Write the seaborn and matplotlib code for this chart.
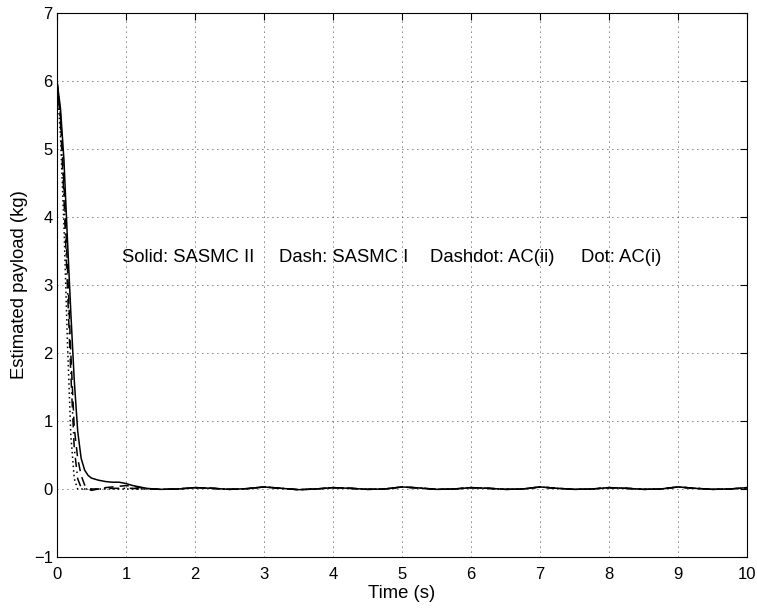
import numpy as np
import pandas as pd
import matplotlib
matplotlib.use("Agg")
import matplotlib.pyplot as plt
import seaborn as sns

# ---- data ----
t_early = [0.0, 0.05, 0.1, 0.15, 0.2, 0.25, 0.3, 0.35, 0.4, 0.45, 0.5,
           0.6, 0.7, 0.8, 0.9, 1.0, 1.1, 1.2, 1.3, 1.4]
solid_early = [6.0, 5.6, 4.85, 3.7, 2.6, 1.6, 0.85, 0.45, 0.28, 0.2, 0.16,
               0.13, 0.11, 0.1, 0.1, 0.08, 0.05, 0.03, 0.01, 0.0]
dash_early = [6.0, 5.5, 4.5, 3.3, 2.0, 0.9, 0.45, 0.2, 0.06, 0.0, -0.02,
              0.0, 0.02, 0.03, 0.04, 0.05, 0.04, 0.02, 0.01, 0.0]
dashdot_early = [6.0, 5.4, 4.3, 3.0, 1.7, 0.6, 0.15, 0.02, 0.0, 0.0, 0.0,
                 0.0, 0.01, 0.01, 0.01, 0.01, 0.01, 0.0, 0.0, 0.0]
dot_early = [6.0, 5.2, 3.9, 2.2, 0.8, 0.15, 0.0, 0.0, 0.0, 0.0, 0.0,
             0.0, 0.0, 0.0, 0.0, 0.0, 0.0, 0.0, 0.0, 0.0]

t_tail = [1.5, 1.75, 2.0, 2.25, 2.5, 2.75, 3.0, 3.25, 3.5, 3.75, 4.0, 4.25,
          4.5, 4.75, 5.0, 5.25, 5.5, 5.75, 6.0, 6.25, 6.5, 6.75, 7.0, 7.25,
          7.5, 7.75, 8.0, 8.25, 8.5, 8.75, 9.0, 9.25, 9.5, 9.75, 10.0]
tail = [-0.005, 0.0, 0.02, 0.01, -0.005, 0.005, 0.03, 0.01, -0.01, 0.0,
        0.02, 0.01, -0.005, 0.0, 0.03, 0.015, -0.005, 0.0, 0.02, 0.01,
        -0.005, 0.0, 0.03, 0.01, -0.005, 0.0, 0.02, 0.01, -0.005, 0.0,
        0.03, 0.01, -0.005, 0.0, 0.02]

series_names = ["Solid", "Dash", "Dashdot", "Dot"]
labels = ["Solid: SASMC II", "Dash: SASMC I", "Dashdot: AC(ii)", "Dot: AC(i)"]
label_x = [0.94, 3.22, 5.41, 7.59]
label_y = 3.41

xticks = list(range(0, 11))
yticks = list(range(-1, 8))

# ---- build table ----
time = t_early + t_tail
rows = []
for name, early in zip(series_names,
                       [solid_early, dash_early, dashdot_early, dot_early]):
    for tt, vv in zip(time, early + tail):
        rows.append({"t": tt, "v": vv, "series": name})
df = pd.DataFrame(rows)

sns.set_style("white")
plt.rcParams["font.family"] = ["Liberation Sans", "DejaVu Sans"]
plt.rcParams.update({"text.color": "black", "axes.labelcolor": "black",
                     "xtick.color": "black", "ytick.color": "black"})

fig = plt.figure(figsize=(7.57, 6.08), dpi=100)
ax = fig.add_axes([57/757, 51/608, 690/757, 544/608])

styles = {"Solid": "-", "Dash": (0, (6, 4)), "Dashdot": (0, (6, 3, 1, 3)),
          "Dot": (0, (1, 2))}
for name in series_names:
    sub = df[df["series"] == name]
    sns.lineplot(data=sub, x="t", y="v", ax=ax, color="black",
                 linewidth=1.1, estimator=None, sort=False, legend=False)
    ax.lines[-1].set_linestyle(styles[name])

for lab, lx in zip(labels, label_x):
    ax.text(lx, label_y, lab, fontsize=13.3, va="center", ha="left",
            color="black")

ax.set_xlim(0, 10)
ax.set_ylim(-1, 7)
ax.set_xticks(xticks)
ax.set_yticks(yticks)
ax.set_xlabel("Time (s)", fontsize=13.3, labelpad=2, color="black")
ax.set_ylabel("Estimated payload (kg)", fontsize=13.3, labelpad=4,
              color="black")
ax.tick_params(direction="in", top=True, right=True, length=5,
               labelsize=12, width=0.8, color="black", labelcolor="black")
ax.tick_params(axis="x", pad=7)
ax.tick_params(axis="y", pad=3)
ax.grid(True, color="black", linestyle=(0, (1, 5)), linewidth=0.6)
for s in ax.spines.values():
    s.set_visible(True)
    s.set_color("black")
    s.set_linewidth(0.8)

fig.savefig("out.png", dpi=100, facecolor="white")
